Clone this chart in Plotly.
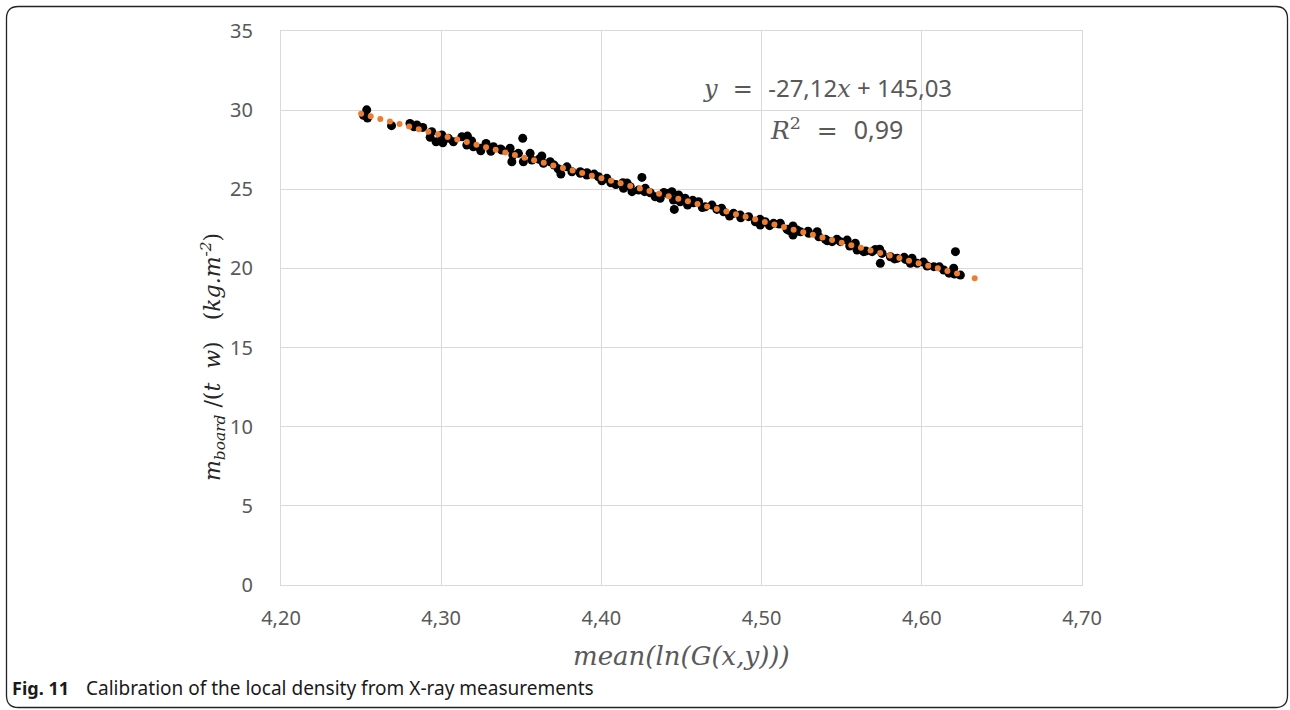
import plotly.graph_objects as go

# ---------------- data ----------------
measured_x = [
    4.2515, 4.2535, 4.2540, 4.2690,
    4.2805, 4.2848, 4.2885, 4.2931, 4.2968, 4.2941, 4.3004, 4.3010, 4.3045, 4.3076,
    4.3129, 4.3164, 4.3160, 4.3201, 4.3243, 4.3280, 4.3247, 4.3326, 4.3378, 4.3430,
    4.3447, 4.3441, 4.3482, 4.3509, 4.3513, 4.3555, 4.3566, 4.3628, 4.3638, 4.3680,
    4.3705, 4.3747, 4.3785, 4.3816, 4.3868,
    4.3868, 4.3909, 4.3955, 4.3982, 4.4003, 4.4034, 4.4059, 4.4253, 4.4134, 4.4138,
    4.4180, 4.4191, 4.4232, 4.4274, 4.4305, 4.4336, 4.4367, 4.4409, 4.4440, 4.4450,
    4.4455, 4.4482, 4.4492, 4.4523, 4.4538, 4.4575, 4.4607, 4.4648, 4.4690, 4.4721,
    4.4763, 4.4800, 4.4825, 4.4867, 4.4919, 4.4961, 4.4992, 4.5023, 4.5075, 4.5117,
    4.5159, 4.5196, 4.5221,
    4.5196, 4.5200, 4.5242, 4.5294, 4.5347, 4.5357, 4.5398, 4.5440, 4.5492, 4.5534,
    4.5550, 4.5585, 4.5596, 4.5637, 4.5690, 4.5737, 4.5741, 4.5752, 4.5804, 4.5846,
    4.5898, 4.5939, 4.5929, 4.5971, 4.6033, 4.6075, 4.6137, 4.6199, 4.6210, 4.6204,
    4.6241,
    4.283, 4.301, 4.319, 4.331, 4.337, 4.361, 4.373, 4.391, 4.409, 4.416,
    4.427, 4.439, 4.457, 4.463, 4.475, 4.487, 4.499, 4.505, 4.511, 4.517,
    4.529, 4.541, 4.547, 4.565, 4.571, 4.583, 4.589, 4.601, 4.611, 4.617,
]
measured_y = [
    29.68, 30.02, 29.50, 29.02,
    29.16, 29.06, 28.91, 28.28, 28.00, 28.64, 28.43, 27.94, 28.22, 28.00,
    28.32, 28.36, 27.80, 27.69, 27.59, 27.90, 27.43, 27.69, 27.48, 27.59,
    27.16, 26.74, 27.27, 28.22, 26.74, 27.27, 26.85, 27.10, 26.64, 26.74,
    26.53, 25.96, 26.42, 26.11, 26.01,
    26.11, 25.90, 25.96, 25.79, 25.54, 25.69, 25.41, 25.75, 25.41, 25.06,
    25.16, 24.85, 24.95, 25.06, 24.78, 24.53, 24.43, 24.74, 24.85, 24.32,
    23.73, 24.64, 24.21, 24.43, 24.00, 24.15, 24.21, 23.90, 24.00, 23.73,
    23.58, 23.31, 23.48, 23.37, 23.27, 22.95, 22.74, 22.95, 22.85, 22.85,
    22.47, 22.11, 22.43,
    22.68, 22.22, 22.32, 22.22, 22.32, 22.00, 21.84, 21.69, 21.69, 21.79,
    21.42, 21.59, 21.16, 21.06, 21.06, 21.21, 20.32, 20.95, 20.74, 20.64,
    20.57, 20.64, 20.32, 20.32, 20.15, 20.11, 19.90, 20.01, 21.06, 19.65,
    19.58,
    28.95, 28.20, 28.05, 27.40, 27.55, 26.90, 26.30, 26.05, 25.30, 25.40,
    24.85, 24.80, 24.30, 23.85, 23.80, 23.20, 23.10, 22.70, 22.80, 22.40,
    22.35, 21.75, 21.85, 21.10, 21.20, 20.60, 20.70, 20.40, 20.10, 19.70,
]

fitted_x = [
    4.250, 4.256, 4.262, 4.268, 4.274, 4.280, 4.286, 4.292, 4.298, 4.304,
    4.310, 4.316, 4.322, 4.328, 4.334, 4.340, 4.346, 4.352, 4.358, 4.364,
    4.370, 4.376, 4.382, 4.388, 4.394, 4.400, 4.406, 4.412, 4.418, 4.424,
    4.430, 4.436, 4.442, 4.448, 4.454, 4.460, 4.466, 4.472, 4.478, 4.484,
    4.490, 4.496, 4.502, 4.508, 4.514, 4.520, 4.526, 4.532, 4.538, 4.544,
    4.550, 4.556, 4.562, 4.568, 4.574, 4.580, 4.586, 4.592, 4.598, 4.604,
    4.610, 4.616, 4.622, 4.633,
]
fitted_y = [
    29.77, 29.61, 29.44, 29.28, 29.12, 28.96, 28.79, 28.63, 28.47, 28.30,
    28.14, 27.98, 27.82, 27.65, 27.49, 27.33, 27.17, 27.00, 26.84, 26.68,
    26.51, 26.35, 26.19, 26.03, 25.86, 25.70, 25.54, 25.38, 25.21, 25.05,
    24.89, 24.72, 24.56, 24.40, 24.24, 24.07, 23.91, 23.75, 23.59, 23.42,
    23.26, 23.10, 22.93, 22.77, 22.61, 22.45, 22.28, 22.12, 21.96, 21.80,
    21.63, 21.47, 21.31, 21.14, 20.98, 20.82, 20.66, 20.49, 20.33, 20.17,
    20.01, 19.84, 19.68, 19.38,
]

x_ticks = [4.20, 4.30, 4.40, 4.50, 4.60, 4.70]
y_ticks = [0, 5, 10, 15, 20, 25, 30, 35]

# ---------------- layout geometry (pixels) ----------------
W, H = 1290, 710
L, R, T, B = 281, 1082, 31, 585
PW, PH = R - L, B - T


def px(xp):
    return (xp - L) / PW


def py(yp):
    return (B - yp) / PH


TICK_GRAY = "#595959"
GRID = "#D9D9D9"
ORANGE = "#ED7D31"
SERIF = "DejaVu Serif, Liberation Serif, serif"
SANS = "Noto Sans, Open Sans, sans-serif"

fig = go.Figure()
fig.add_trace(go.Scatter(
    x=measured_x, y=measured_y, mode="markers",
    marker=dict(color="black", size=9, line=dict(width=0)),
    showlegend=False, hoverinfo="x+y",
))
fig.add_trace(go.Scatter(
    x=fitted_x, y=fitted_y, mode="markers",
    marker=dict(color=ORANGE, size=6, line=dict(width=0)),
    showlegend=False, hoverinfo="x+y",
))

fig.update_layout(
    width=W, height=H,
    margin=dict(l=L, r=W - R, t=T, b=H - B, pad=0),
    paper_bgcolor="white", plot_bgcolor="white",
    separators=", ",
    xaxis=dict(
        range=[4.2, 4.7], tickvals=x_ticks, tickformat=".2f",
        showgrid=True, gridcolor=GRID, gridwidth=1,
        showline=True, linecolor=GRID, linewidth=1, mirror=True,
        zeroline=False, ticks="", ticklabelstandoff=15,
        tickfont=dict(family=SANS, size=20, color=TICK_GRAY),
    ),
    yaxis=dict(
        range=[0, 35], tickvals=y_ticks,
        showgrid=True, gridcolor=GRID, gridwidth=1,
        showline=True, linecolor=GRID, linewidth=1, mirror=True,
        zeroline=False, ticks="", ticklabelstandoff=23,
        tickfont=dict(family=SANS, size=20, color=TICK_GRAY),
    ),
)

# equation and R^2
fig.add_annotation(
    x=px(827), y=py(87), xref="paper", yref="paper", showarrow=False,
    xanchor="center", yanchor="middle",
    text="<i>y</i>  =  <span style='font-family:Noto Sans'>-27,12</span><i>x</i>"
         "<span style='font-family:Noto Sans'> + 145,03</span>",
    font=dict(family=SERIF, size=24, color=TICK_GRAY),
)
fig.add_annotation(
    x=px(836), y=py(129), xref="paper", yref="paper", showarrow=False,
    xanchor="center", yanchor="middle",
    text="<i>R</i><sup>2</sup>  =  <span style='font-family:Noto Sans'>0,99</span>",
    font=dict(family=SERIF, size=25, color=TICK_GRAY),
)

# axis titles
fig.add_annotation(
    x=px(681), y=py(656), xref="paper", yref="paper", showarrow=False,
    xanchor="center", yanchor="middle",
    text="<i>mean(ln(G(x,y)))</i>",
    font=dict(family=SERIF, size=26, color=TICK_GRAY),
)
fig.add_annotation(
    x=px(213), y=py(357), xref="paper", yref="paper", showarrow=False,
    xanchor="center", yanchor="middle", textangle=-90,
    text="<i>m</i><sub><i>board</i></sub>&nbsp;/(<i>t</i>&nbsp;&nbsp;<i>w</i>)"
         "&nbsp;&nbsp;&nbsp;(<i>kg.m</i><sup><i>-2</i></sup>)",
    font=dict(family=SERIF, size=22, color="#262626"),
)

# caption
fig.add_annotation(
    x=px(10), y=py(688), xref="paper", yref="paper", showarrow=False,
    xanchor="left", yanchor="middle",
    text="Fig. 11",
    font=dict(family=SANS, size=18, color="#1a1a1a", weight="bold"),
)
fig.add_annotation(
    x=px(84), y=py(688), xref="paper", yref="paper", showarrow=False,
    xanchor="left", yanchor="middle",
    text="Calibration of the local density from X-ray measurements",
    font=dict(family=SANS, size=19, color="#1a1a1a"),
)

# rounded outer frame
x0, x1, y0, y1, r = 6.5, 1287.5, 6.5, 707.5, 12
rx, ry = r / PW, r / PH
X0, X1, Y0, Y1 = px(x0), px(x1), py(y0), py(y1)
path = (
    f"M {X0 + rx},{Y0} L {X1 - rx},{Y0} Q {X1},{Y0} {X1},{Y0 - ry} "
    f"L {X1},{Y1 + ry} Q {X1},{Y1} {X1 - rx},{Y1} "
    f"L {X0 + rx},{Y1} Q {X0},{Y1} {X0},{Y1 + ry} "
    f"L {X0},{Y0 - ry} Q {X0},{Y0} {X0 + rx},{Y0} Z"
)
fig.add_shape(type="path", path=path, xref="paper", yref="paper",
              line=dict(color="#222222", width=1.3), layer="above")

fig.write_html(
    "out.html",
    config={"displayModeBar": False},
    post_script="document.body.style.margin='0';document.body.style.overflow='hidden';",
)
